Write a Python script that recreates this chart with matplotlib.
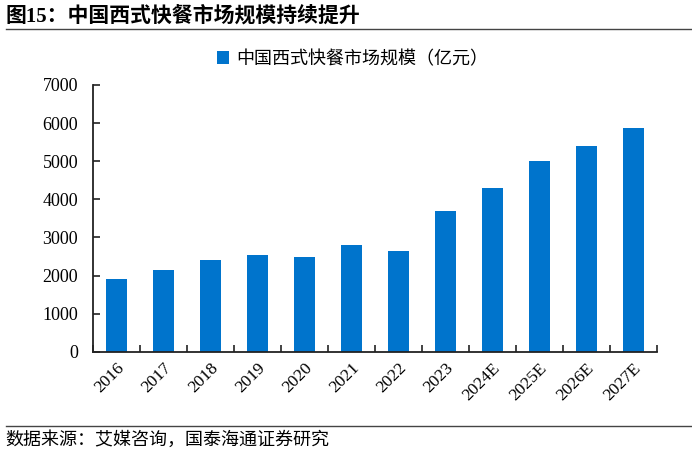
import matplotlib
matplotlib.use("Agg")
import matplotlib.pyplot as plt
from matplotlib.lines import Line2D
import numpy as np

plt.rcParams['font.family'] = ['Liberation Serif', 'Noto Sans CJK SC', 'DejaVu Sans']

categories = ['2016', '2017', '2018', '2019', '2020', '2021', '2022', '2023',
              '2024E', '2025E', '2026E', '2027E']
values = [1905, 2140, 2400, 2550, 2480, 2800, 2640, 3690, 4290, 5000, 5390, 5880]
series_name = '中国西式快餐市场规模（亿元）'
title = '图15：中国西式快餐市场规模持续提升'
source = '数据来源：艾媒咨询，国泰海通证券研究'

color = '#0074CC'

fig = plt.figure(figsize=(6.92, 4.53), dpi=100)
ax = fig.add_axes([0.1349, 0.2236, 0.814, 0.5888])

x = np.arange(len(categories))
ax.bar(x, values, width=0.45, color=color, label=series_name, zorder=2)
ax.set_xlim(-0.5, len(categories) - 0.5)
ax.set_ylim(0, 7000)
ax.set_yticks(range(0, 7001, 1000))
ax.set_xticks(x)
ax.set_xticklabels(categories, rotation=45, ha='right', rotation_mode='anchor', fontsize=12.5)
ax.set_xticks(np.arange(-0.5, len(categories), 1.0), minor=True)
ax.tick_params(axis='x', which='major', length=0, pad=6)
ax.tick_params(axis='x', which='minor', direction='in', length=5, width=1.2, color='#222222')
ax.tick_params(axis='y', direction='in', length=5, width=1.2, color='#222222', labelsize=13, pad=11)
for s in ['top', 'right']:
    ax.spines[s].set_visible(False)
for s in ['left', 'bottom']:
    ax.spines[s].set_linewidth(1.3)
    ax.spines[s].set_color('#222222')

leg = ax.legend(loc='upper center', bbox_to_anchor=(0.46, 1.19), frameon=False,
                fontsize=13, handlelength=0.7, handleheight=0.7, handletextpad=0.4)

fig.text(0.008, 0.965, title, fontsize=15, fontweight='bold', ha='left', va='center')
fig.add_artist(Line2D([0.008, 1.0], [0.936, 0.936], color='#444444', lw=1.0))
fig.add_artist(Line2D([0.008, 1.0], [0.06, 0.06], color='#444444', lw=1.0))
fig.text(0.008, 0.029, source, fontsize=13, ha='left', va='center')

fig.savefig('out.png', dpi=100)
